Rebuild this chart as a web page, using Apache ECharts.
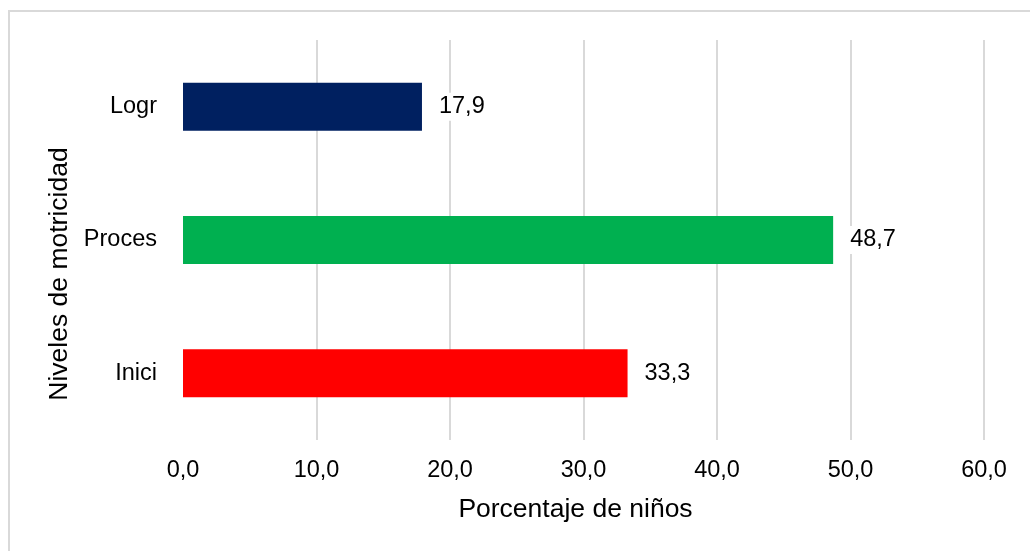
<!DOCTYPE html>
<html>
<head>
<meta charset="utf-8">
<script src="https://cdn.jsdelivr.net/npm/echarts@6/dist/echarts.min.js"></script>
<style>
    html, body { margin: 0; padding: 0; background: #fff; }
    #frame {
        position: absolute; left: 8px; top: 10px; width: 1030px; height: 551px;
        border-top: 2px solid #d9d9d9; border-left: 2px solid #d9d9d9;
    }
    #chart { position: absolute; left: 0; top: 0; width: 1030px; height: 551px; }
</style>
</head>
<body>
<div id="frame"></div>
<div id="chart"></div>
<script>
// datos (de abajo hacia arriba)
const niveles = ['Inici', 'Proces', 'Logr'];
const porcentajes = [33.3, 48.7, 17.9];
const colores = ['#ff0000', '#00b050', '#002060'];
const ejeMin = 0, ejeMax = 60, ejePaso = 10;

const fuente = 'Liberation Sans, Arial, sans-serif';
const fmt = v => v.toFixed(1).replace('.', ',');

const chart = echarts.init(document.getElementById('chart'));

chart.setOption({
    animation: false,
    textStyle: { fontFamily: fuente },
    grid: { left: 183, right: 46, top: 40, bottom: 111 },
    xAxis: {
        type: 'value',
        min: ejeMin, max: ejeMax, interval: ejePaso,
        name: 'Porcentaje de niños',
        nameLocation: 'middle',
        nameGap: 56,
        nameTextStyle: { fontSize: 26.5, color: '#000', padding: [0, 16, 0, 0] },
        axisLine: { show: false },
        axisTick: { show: false },
        axisLabel: { fontSize: 23.5, color: '#000', margin: 19, formatter: fmt },
        splitLine: {
            lineStyle: {
                color: ['rgba(0,0,0,0)', '#d9d9d9', '#d9d9d9', '#d9d9d9', '#d9d9d9', '#d9d9d9', '#d9d9d9'],
                width: 2
            }
        }
    },
    yAxis: {
        type: 'category',
        data: niveles,
        name: 'Niveles de motricidad',
        nameLocation: 'middle',
        nameGap: 107,
        nameTextStyle: { fontSize: 26.5, color: '#000', padding: [0, 68, 0, 0] },
        axisLine: { show: false },
        axisTick: { show: false },
        axisLabel: { fontSize: 23.5, color: '#000', margin: 26 }
    },
    series: [{
        type: 'bar',
        barWidth: 48,
        data: porcentajes.map((v, i) => ({ value: v, itemStyle: { color: colores[i] } })),
        label: {
            show: true,
            position: 'right',
            distance: 13,
            fontSize: 23.5,
            color: '#000',
            backgroundColor: '#fff',
            padding: [2, 4],
            formatter: p => fmt(p.value)
        }
    }]
});
</script>
</body>
</html>
